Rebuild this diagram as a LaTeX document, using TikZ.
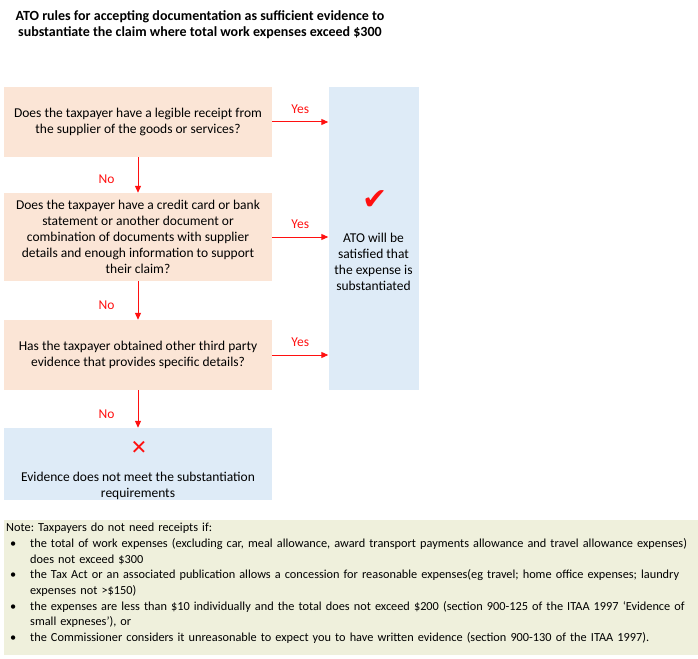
\documentclass[tikz,border=0pt]{standalone}
\usepackage{fontspec}
\setmainfont{Carlito}
\newfontfamily\symfont{DejaVu Sans}
\usetikzlibrary{arrows.meta,positioning,calc}

\definecolor{askfill}{HTML}{FBE5D6}
\definecolor{endfill}{HTML}{DEEBF7}
\definecolor{notefill}{HTML}{EFF0DC}
\definecolor{flowred}{HTML}{FF1010}

% one bullet line of the note
\newcommand{\noteitem}[1]{\par\hangindent=24pt\hangafter=1\noindent
  \hspace*{4pt}\makebox[20pt][l]{\textbullet}#1\par}

\begin{document}
\begin{tikzpicture}[x=1pt, y=-1pt, font=\fontsize{13.5}{16}\selectfont, >={Triangle[length=7pt,width=6pt]}]
  \tikzset{
    askbox/.style={fill=askfill, align=center,
      minimum width=268pt, inner sep=0pt},
    endbox/.style={fill=endfill, inner sep=0pt},
    flow/.style={->, flowred, line width=1pt},
    answer/.style={inner sep=1pt}
  }
  \useasboundingbox (0,0) rectangle (698,658);

  %% Title
  \node[font=\bfseries\fontsize{14}{16}\selectfont, align=center] (title) at (200,25)
    {ATO rules for accepting documentation as sufficient evidence to\\
     substantiate the claim where total work expenses exceed \$300};

  %% Questions (orange)
  \node[askbox, minimum height=70pt] (q1) at (138,122)
    {Does the taxpayer have a legible receipt from\\the supplier of the goods or services?};
  \node[askbox, minimum height=88pt] (q2) at (138,237)
    {Does the taxpayer have a credit card or bank\\statement or another document or\\
     combination of documents with supplier\\details and enough information to support\\their claim?};
  \node[askbox, minimum height=70pt] (q3) at (138,355)
    {Has the taxpayer obtained other third party\\evidence that provides specific details?};

  %% Outcomes (blue)
  \node[endbox, minimum width=268pt, minimum height=72pt] (fail) at (138,464) {};
  \node[flowred, font=\symfont\fontsize{20}{20}\selectfont] (failmark) at (139,448) {✕};
  \node[align=center] (failtext) at (138,486)
    {Evidence does not meet the substantiation\\requirements};

  \node[endbox, minimum width=90pt, minimum height=303pt] (ok) at (373.5,238.5) {};
  \node[flowred, font=\symfont\fontsize{30}{30}\selectfont] (okmark) at (375,200) {✔};
  \node[align=center] (oktext) at (373.5,262)
    {ATO will be\\satisfied that\\the expense is\\substantiated};

  %% Yes arrows
  \draw[flow] (q1.east) -- (q1.east -| ok.west)
    node[answer, midway, above=7pt] {Yes};
  \draw[flow] (q2.east) -- (q2.east -| ok.west)
    node[answer, midway, above=7pt] {Yes};
  \draw[flow] (q3.east) -- (q3.east -| ok.west)
    node[answer, midway, above=7pt] {Yes};

  %% No arrows
  \draw[flow] (q1.south) -- (q2.north)
    node[answer, pos=0.62, left=22pt] {No};
  \draw[flow] (q2.south) -- (q3.north)
    node[answer, pos=0.62, left=22pt] {No};
  \draw[flow] (q3.south) -- (fail.north)
    node[answer, pos=0.65, left=22pt] {No};

  %% Note
  \node[fill=notefill, minimum width=694pt, minimum height=135pt, inner sep=0pt] (note) at (351,587.5) {};
  \node[anchor=north west, text width=690pt, inner sep=0pt,
        font=\fontsize{12.3}{15.7}\selectfont\frenchspacing] (notetext) at (6,523)
    {Note: Taxpayers do not need receipts if:
     \noteitem{the total of work expenses (excluding car, meal allowance, award transport payments allowance and travel allowance expenses)\newline does not exceed \$300}
     \noteitem{the Tax Act or an associated publication allows a concession for reasonable expenses(eg travel; home office expenses; laundry\newline expenses not >\$150)}
     \noteitem{the expenses are less than \$10 individually and the total does not exceed \$200 (section 900-125 of the ITAA 1997 ‘Evidence of\newline small expneses’), or}
     \noteitem{the Commissioner considers it unreasonable to expect you to have written evidence (section 900-130 of the ITAA 1997).}};
\end{tikzpicture}
\end{document}
